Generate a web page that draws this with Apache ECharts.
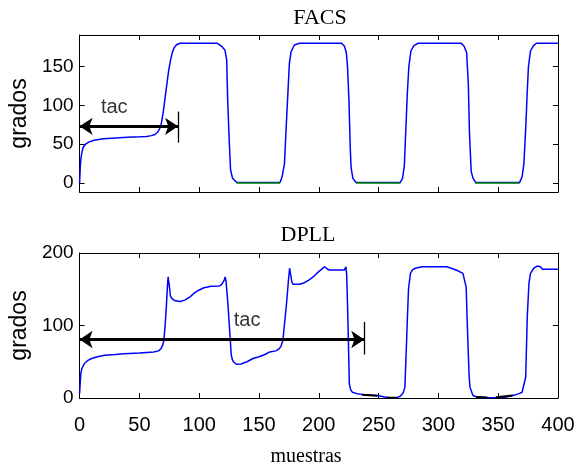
<!DOCTYPE html>
<html><head><meta charset="utf-8">
<script src="https://cdn.jsdelivr.net/npm/echarts@6/dist/echarts.min.js"></script>
<style>html,body{margin:0;padding:0;background:#fff}#c{width:578px;height:471px}</style>
</head><body><div id="c"></div>
<script>
// ---- FACS (top) ----
const facsX = [0,0.5,1,2,3,5,8,12,20,30,40,50,56,60,63,65,67,68.5,70,71.5,73,74.5,76,77.5,79,81,84,115,118.8,121.6,123,123.8,125.1,126.2,127.9,131.2,132,167.6,169.3,171.3,172.6,174,175.4,176.8,179.6,183.7,219,221.5,223,224,225.2,226.3,227,228.5,231,232,268,270,271.5,272.8,274,275.3,277,279.5,283,319,321.5,323.6,325,326,327.4,329,331,332,367.8,370,371.5,373,374.2,375.3,377,379.5,382,400];
const facsY = [0,18,30,40,46,50,53,55,57,58,59,59.5,60,61,62.5,65,70,78,92,110,128,145,158,168,174,178,180,180,176,171,158,107,55,17,6,1,0,0.5,8,25,68,111,154,169,177.7,180,180,176,168,150,107,45,20,6,1,0,0.5,6,22,70,115,150,170,177,180,180,176,168,128,64,15,6,1,0,0.5,8,25,70,115,150,170,177,180,180];
// green low segments (null separates pieces)
const facsGreenX = [131.2,167.6,null,231,268.3,null,330.5,367.8];
const facsGreenY = [0,0,null,0,0,null,0,0];
const facsYTicks = [0,50,100,150];

// ---- DPLL (bottom) ----
const dpllX = [0,0.5,1,2,4,7,10,15,21,30,37,50,62,66,68,69.5,70.5,71.5,72.5,73.3,74,75,76,78,80,84,88,92,96,100,104,110,117,119,121,121.7,122.5,124,125,126,126.7,127.5,128.6,131,135,140,145,150,155,159,164,167,168.5,170,171.5,173,174.5,175.6,176.5,177.5,178.4,180,184,188,192,196,199,202,204.7,207,209,215,221.3,222.7,223.3,224,224.8,225.5,226.5,228,232,236.5,243,250,255,261,265,268,270.5,272,273,274,275,276.6,278.5,280.7,286.3,300,307,314.9,320.5,323.2,324,325,325.7,326.4,328.8,331,333.4,340,350,357,363.7,367.4,370,371.5,373,374.3,375.7,377,379.8,382.6,385.3,387,392,400];
const dpllY = [6,20,34,41,47.5,52,54.5,57,59,60,61,62,63.5,65,68,73,80,100,125,150,167,155,140,136,134,133,135,139,145,149,152,154,154.5,157,163,167,160,130,105,80,61,54,50,46.6,47,50,54.5,57,60,63.6,65,68,72,80,105,130,160,179,170,160,157,156,157,159,163,168,173,177,181,178,176.5,176.5,176.5,181,170,130,75,20,12,8,6,5,4,3,1.5,0,0.5,2.5,7,15,60,107,150,172,177,179,181,181,181,176.5,172,153,110,61,30,15,3.7,2,1.4,0.5,0.8,1.5,4,6,8,10.6,29,112,158,172,179,182,181,177.5,177.5,177.5];
// dark pieces lying near zero
const dpllDarkX = [236,249,null,257,265,null,331.5,341,null,348,362];
const dpllDarkY = [4.5,3,null,0.4,0.4,null,1.4,0.6,null,1,3.5];
const dpllYTicks = [0,100,200];

// ---- annotations (data coordinates) ----
const tacTop = {x0:0, x1:82.3, y:73, barLo:52, barHi:92, textX:29, textY:97};
const tacBot = {x0:0, x1:238, y:80.7, barLo:60, barHi:105, textX:140, textY:107.4};

const xTickStep = 50;

function zip(xs, ys){ return xs.map((x,i)=> x===null ? [null,null] : [x, ys[i]]); }

const numFont = "'Liberation Sans',Arial,sans-serif";
const serifFont = "'Liberation Serif','Times New Roman',serif";
const black = '#000';

function xAx(grid, top, labels){
  return {gridIndex:grid, type:'value', min:0, max:400, interval:xTickStep, position: top?'top':'bottom',
    axisLine:{show:true, onZero:false, lineStyle:{color:black,width:1}},
    axisTick:{show:true, inside:true, length:5, lineStyle:{color:black}},
    axisLabel:{show:labels, margin:17, color:black, fontFamily:numFont, fontSize:20},
    splitLine:{show:false}};
}
function yAx(grid, right, min, max, ticks, labels, name){
  return {gridIndex:grid, type:'value', min:min, max:max, position: right?'right':'left',
    axisLine:{show:true, onZero:false, lineStyle:{color:black,width:1}},
    axisTick:{show:true, inside:true, length:5, customValues:ticks, lineStyle:{color:black}},
    axisLabel:{show:labels, margin:6, color:black, fontFamily:numFont, fontSize:19, customValues:ticks},
    splitLine:{show:false},
    name: name||'', nameLocation:'middle', nameGap:45, nameRotate:90,
    nameTextStyle:{color:black, fontFamily:numFont, fontSize:23}};
}

function arrowMark(t){
  return {silent:true, symbol:['arrow','arrow'], symbolSize:13, animation:false,
    label:{show:false}, emphasis:{disabled:true},
    lineStyle:{color:black, width:3.2, type:'solid'},
    data:[
      [{coord:[t.x0,t.y]},{coord:[t.x1,t.y]}],
      [{coord:[t.x1,t.barLo], symbol:'none', lineStyle:{width:1.3}},{coord:[t.x1,t.barHi], symbol:'none'}]
    ]};
}

const option = {
  animation:false,
  backgroundColor:'#fff',
  grid:[{left:75,top:35,width:483,height:157},{left:75,top:253,width:483,height:145}],
  xAxis:[xAx(0,false,false), xAx(0,true,false), xAx(1,false,true), xAx(1,true,false)],
  yAxis:[yAx(0,false,-11.6,190.6,facsYTicks,true,'grados'), yAx(0,true,-11.6,190.6,facsYTicks,false),
         yAx(1,false,0,200,dpllYTicks,true,'grados'), yAx(1,true,0,200,dpllYTicks,false)],
  graphic:[
    {type:'text', x:320, y:18, style:{text:'FACS', fill:black, font:"22px "+serifFont, align:'center', verticalAlign:'middle'}},
    {type:'text', x:308, y:235, style:{text:'DPLL', fill:black, font:"22px "+serifFont, align:'center', verticalAlign:'middle'}},
    {type:'text', x:306, y:457, style:{text:'muestras', fill:black, font:"20px "+serifFont, align:'center', verticalAlign:'middle'}}
  ],
  series:[
    {type:'line', xAxisIndex:0, yAxisIndex:0, data:zip(facsX,facsY), showSymbol:false, symbol:'none',
      lineStyle:{color:'#0000ff', width:1.5}, z:2},
    {type:'line', xAxisIndex:0, yAxisIndex:0, data:zip(facsGreenX,facsGreenY), showSymbol:false, symbol:'none', connectNulls:false,
      lineStyle:{color:'#008000', width:1.6}, z:3},
    {type:'line', xAxisIndex:2, yAxisIndex:2, data:zip(dpllX,dpllY), showSymbol:false, symbol:'none',
      lineStyle:{color:'#0000ff', width:1.5}, z:2},
    {type:'line', xAxisIndex:2, yAxisIndex:2, data:zip(dpllDarkX,dpllDarkY), showSymbol:false, symbol:'none', connectNulls:false,
      lineStyle:{color:'#000', width:2}, z:3},
    {type:'line', xAxisIndex:0, yAxisIndex:0, data:[], markLine:arrowMark(tacTop), z:5},
    {type:'line', xAxisIndex:2, yAxisIndex:2, data:[], markLine:arrowMark(tacBot), z:5},
    {type:'scatter', xAxisIndex:0, yAxisIndex:0, data:[[tacTop.textX,tacTop.textY]], symbolSize:0, silent:true,
      label:{show:true, position:'inside', formatter:'tac', color:black, textBorderWidth:0, fontFamily:numFont, fontSize:20}},
    {type:'scatter', xAxisIndex:2, yAxisIndex:2, data:[[tacBot.textX,tacBot.textY]], symbolSize:0, silent:true,
      label:{show:true, position:'inside', formatter:'tac', color:black, textBorderWidth:0, fontFamily:numFont, fontSize:20}}
  ]
};
const chart = echarts.init(document.getElementById('c'));
chart.setOption(option);
</script>
</body></html>
